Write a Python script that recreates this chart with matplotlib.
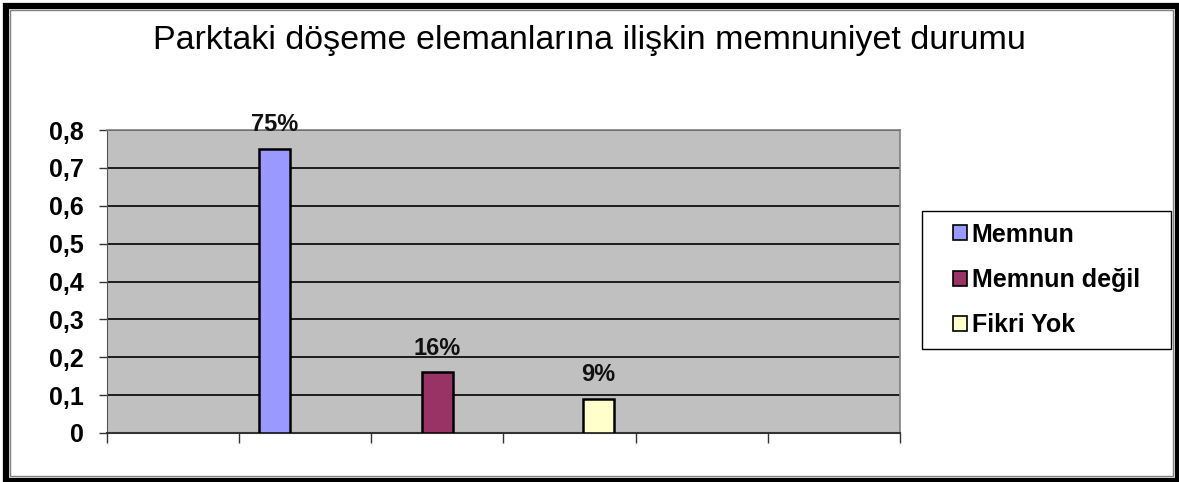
import matplotlib.pyplot as plt
from matplotlib.patches import Rectangle

# data
categories = ['Memnun', 'Memnun değil', 'Fikri Yok']
values = [0.75, 0.16, 0.09]
value_labels = ['75%', '16%', '9%']
colors = ['#9999FF', '#993366', '#FFFFCC']
y_ticks = [0, 0.1, 0.2, 0.3, 0.4, 0.5, 0.6, 0.7, 0.8]
y_tick_labels = ['0', '0,1', '0,2', '0,3', '0,4', '0,5', '0,6', '0,7', '0,8']

# layout
bar_pos = [1.27, 2.5, 3.72]
bar_width = 0.235
W, H = 1179, 482

plt.rcParams['font.family'] = ['Liberation Sans', 'DejaVu Sans']

fig = plt.figure(figsize=(W / 100, H / 100), dpi=100)
ax = fig.add_axes([107 / W, 1 - 433 / H, 793 / W, 303 / H])
ax.set_facecolor('#C0C0C0')

bars = ax.bar(bar_pos, values, width=bar_width, color=colors,
              edgecolor='black', linewidth=1.8, zorder=3)
for b, lab, c in zip(bars, value_labels, categories):
    b.set_label(c)
    ax.annotate(lab, (b.get_x() + b.get_width() / 2, b.get_height()),
                xytext=(0, 9), textcoords='offset points', ha='center', va='bottom',
                fontsize=17, fontweight='bold', color='#111111')

ax.set_xlim(0, 6)
ax.set_ylim(0, 0.8)
ax.set_xticks(range(7))
ax.set_xticklabels([])
ax.set_yticks(y_ticks)
ax.set_yticklabels(y_tick_labels, fontsize=18, fontweight='bold')
ax.tick_params(axis='x', direction='out', length=7, width=1, color='#333333')
ax.tick_params(axis='y', direction='out', length=6, width=1, color='#333333', pad=11)
ax.yaxis.grid(True, color='black', linewidth=1.2, zorder=1)
ax.set_axisbelow(True)
for s in ['top', 'right']:
    ax.spines[s].set_color('#808080')
    ax.spines[s].set_linewidth(1.2)
ax.spines['left'].set_color('#555555')
ax.spines['bottom'].set_color('#333333')
ax.spines['bottom'].set_linewidth(1.5)

fig.text(0.5, 1 - 40 / H, 'Parktaki döşeme elemanlarına ilişkin memnuniyet durumu',
         ha='center', va='center', fontsize=24.5, color='black')

# legend box
fig.patches.append(Rectangle((922 / W, 1 - 349 / H), 249 / W, 138 / H,
                             transform=fig.transFigure, facecolor='white',
                             edgecolor='black', linewidth=1))
leg = fig.legend(handles=list(bars), labels=categories, loc='center',
                 bbox_to_anchor=(1046.5 / W, 1 - 280 / H),
                 prop={'weight': 'bold', 'size': 18}, frameon=False,
                 handlelength=0.55, handleheight=0.55, handletextpad=0.2,
                 labelspacing=0.85, borderpad=0, borderaxespad=0)
for h in leg.legend_handles:
    h.set_linewidth(1.2)

# outer frame
fig.patches.append(Rectangle((10 / W, 1 - 476 / H), 1163 / W, 466 / H,
                             transform=fig.transFigure, fill=False,
                             edgecolor='#808080', linewidth=1))
fig.patches.append(Rectangle((6 / W, 1 - 481 / H), 1172 / W, 475 / H,
                             transform=fig.transFigure, fill=False,
                             edgecolor='black', linewidth=4.5))

fig.savefig('out.png', dpi=100)
